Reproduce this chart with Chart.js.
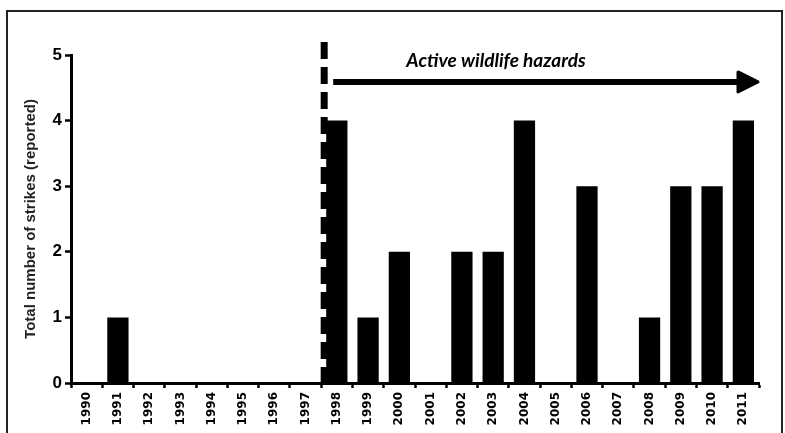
<!DOCTYPE html>
<html>
<head>
<meta charset="utf-8">
<script src="https://cdn.jsdelivr.net/npm/chart.js@4.4.1/dist/chart.umd.min.js"></script>
<style>
  html,body{margin:0;padding:0;background:#fff;}
  #wrap{width:785px;height:433px;position:relative;}
</style>
</head>
<body>
<div id="wrap"><canvas id="c" width="785" height="433"></canvas></div>
<script>
const years = ['1990','1991','1992','1993','1994','1995','1996','1997','1998','1999','2000',
  '2001','2002','2003','2004','2005','2006','2007','2008','2009','2010','2011'];
const strikes = [0,1,0,0,0,0,0,0,4,1,2,0,2,2,4,0,3,0,1,3,3,4];
const yTicks = [0,1,2,3,4,5];
const hazardStart = '1998';
const hazardLabel = 'Active wildlife hazards';
const yTitle = 'Total number of strikes (reported)';

// frame, dashed start line, arrow and its label
const overlay = {
  id:'overlay',
  afterDraw(chart){
    const {ctx, chartArea:a, scales:{x,y}} = chart;
    ctx.save();
    ctx.strokeStyle = '#222';
    ctx.lineWidth = 2;
    ctx.strokeRect(7, 11, 775, 440);

    const i = years.indexOf(hazardStart);
    const bx = (x.getPixelForValue(i-1) + x.getPixelForValue(i))/2 + 3;
    ctx.strokeStyle = '#000';
    ctx.lineWidth = 7;
    ctx.setLineDash([17,8]);
    ctx.beginPath();
    ctx.moveTo(bx, y.getPixelForValue(5.2));
    ctx.lineTo(bx, a.bottom);
    ctx.stroke();
    ctx.setLineDash([]);

    const ay = y.getPixelForValue(4.59);
    const tip = a.right;
    ctx.lineWidth = 6;
    ctx.beginPath();
    ctx.moveTo(bx+9, ay);
    ctx.lineTo(tip-20, ay);
    ctx.stroke();
    ctx.fillStyle = '#000';
    ctx.lineJoin = 'round';
    ctx.lineWidth = 3;
    ctx.beginPath();
    ctx.moveTo(tip-21, ay-10);
    ctx.lineTo(tip-1, ay);
    ctx.lineTo(tip-21, ay+10);
    ctx.closePath();
    ctx.fill();
    ctx.stroke();

    ctx.font = 'italic bold 19px Lato, "Open Sans", sans-serif';
    ctx.textAlign = 'center';
    ctx.textBaseline = 'alphabetic';
    ctx.fillText(hazardLabel, 496, 67, 190);
    ctx.restore();
  }
};

new Chart(document.getElementById('c'), {
  type:'bar',
  data:{ labels:years, datasets:[{ data:strikes, backgroundColor:'#000', borderWidth:0,
    barPercentage:0.68, categoryPercentage:1 }] },
  options:{
    responsive:false,
    animation:false,
    layout:{ padding:{ left:0, top:55, right:26, bottom:0 } },
    plugins:{ legend:{display:false}, tooltip:{enabled:false} },
    scales:{
      x:{
        afterFit(s){ s.height = 50; },
        grid:{ display:true, drawOnChartArea:false, drawTicks:true, offset:true,
          tickLength:5, tickWidth:2.5, tickColor:'#000' },
        border:{ color:'#000', width:3 },
        ticks:{ color:'#000', minRotation:90, maxRotation:90, autoSkip:false, padding:4,
          font:{ family:'"DejaVu Sans", sans-serif', weight:'bold', size:12 } }
      },
      y:{
        min:0, max:5,
        afterFit(s){ s.width = 71; },
        afterBuildTicks(s){ s.ticks = yTicks.map(v=>({value:v})); },
        grid:{ display:true, drawOnChartArea:false, drawTicks:true,
          tickLength:6, tickWidth:2.5, tickColor:'#000' },
        border:{ color:'#000', width:3 },
        ticks:{ color:'#000', padding:3,
          font:{ family:'"Liberation Sans", Arial, sans-serif', weight:'bold', size:17 } },
        title:{ display:true, text:yTitle, color:'#222', padding:{top:22, bottom:0},
          font:{ family:'"Liberation Sans", Arial, sans-serif', weight:'bold', size:15 } }
      }
    }
  },
  plugins:[overlay]
});
</script>
</body>
</html>
